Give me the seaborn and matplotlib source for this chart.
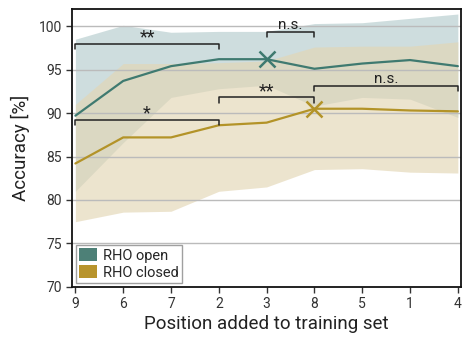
import matplotlib
matplotlib.use("Agg")
import matplotlib.pyplot as plt
import seaborn as sns
import numpy as np
import pandas as pd
from matplotlib.patches import Patch

positions = ["9", "6", "7", "2", "3", "8", "5", "1", "4"]
open_mean = [89.7, 93.7, 95.4, 96.2, 96.2, 95.1, 95.7, 96.1, 95.4]
open_upper = [98.5, 100.1, 99.3, 99.4, 99.4, 100.3, 100.4, 100.9, 101.4]
open_lower = [81.0, 86.6, 91.8, 92.8, 93.2, 90.8, 91.8, 91.6, 89.5]
closed_mean = [84.2, 87.2, 87.2, 88.6, 88.9, 90.5, 90.5, 90.3, 90.2]
closed_upper = [91.0, 95.7, 95.7, 95.8, 96.0, 97.6, 97.7, 97.7, 98.2]
closed_lower = [77.5, 78.6, 78.7, 81.0, 81.5, 83.5, 83.6, 83.2, 83.1]
series_labels = ["RHO open", "RHO closed"]
# significance brackets: (start index, end index, height, label)
brackets = [(0, 3, 98.0, "**"), (4, 5, 99.3, "n.s."),
            (0, 3, 89.2, "*"), (3, 5, 91.8, "**"), (5, 8, 93.1, "n.s.")]
best_open_idx = 4
best_closed_idx = 5

c_open = "#3f7a70"
c_closed = "#b39328"
fill_open = "#bcd1d2"
fill_closed = "#e3d6b4"

sns.set_theme(style="white")
plt.rcParams["font.family"] = ["Roboto", "DejaVu Sans"]

fig, ax = plt.subplots(figsize=(4.74, 3.52), dpi=100)
fig.subplots_adjust(left=0.152, right=0.973, top=0.975, bottom=0.185)

x = np.arange(len(positions))
df = pd.DataFrame({
    "x": np.concatenate([x, x]),
    "acc": open_mean + closed_mean,
    "series": [series_labels[0]] * len(x) + [series_labels[1]] * len(x),
})

ax.fill_between(x, open_lower, open_upper, color=fill_open, alpha=0.72, lw=0, zorder=1)
ax.fill_between(x, closed_lower, closed_upper, color=fill_closed, alpha=0.65, lw=0, zorder=1.1)

for yv in [75, 80, 85, 90, 95, 100]:
    ax.axhline(yv, color="#bbbbbb", lw=1.0, zorder=1.5)

sns.lineplot(data=df, x="x", y="acc", hue="series",
             palette=[c_open, c_closed], lw=1.6, legend=False, ax=ax, zorder=3)

ax.plot(x[best_open_idx], open_mean[best_open_idx], marker="x", ms=11, mew=1.8,
        color=c_open, zorder=4)
ax.plot(x[best_closed_idx], closed_mean[best_closed_idx], marker="x", ms=11, mew=1.8,
        color=c_closed, zorder=4)

for i0, i1, h, lab in brackets:
    ax.plot([x[i0], x[i0], x[i1], x[i1]], [h - 0.6, h, h, h - 0.6],
            color="#222222", lw=1.1, zorder=5)
    if lab == "n.s.":
        ax.text((x[i0] + x[i1]) / 2, h + 0.05, lab, ha="center", va="bottom",
                fontsize=11, color="#222222", zorder=5)
    else:
        ax.text((x[i0] + x[i1]) / 2, h - 0.3, lab, ha="center", va="bottom",
                fontsize=13, color="#222222", zorder=5)

ax.set_xlim(-0.07, 8.07)
ax.set_ylim(70, 102)
ax.set_xticks(x)
ax.set_xticklabels(positions)
ax.set_yticks([70, 75, 80, 85, 90, 95, 100])
ax.tick_params(axis="both", labelsize=10, colors="#333333", length=4, width=1,
               direction="out", bottom=True, left=True)
ax.set_xlabel("Position added to training set", fontsize=13.5, color="#222222",
              labelpad=3)
ax.set_ylabel("Accuracy [%]", fontsize=13.5, color="#222222", labelpad=6)
for s in ax.spines.values():
    s.set_color("#111111")
    s.set_linewidth(1.3)

handles = [Patch(facecolor="#4d8077", edgecolor="none"),
           Patch(facecolor="#b8942c", edgecolor="none")]
leg = ax.legend(handles, series_labels, loc="lower left", fontsize=10.5,
                frameon=True, fancybox=False, handlelength=1.2, handleheight=1.0,
                handletextpad=0.4, borderpad=0.25, labelspacing=0.15,
                borderaxespad=0.25)
leg.get_frame().set_edgecolor("#888888")
leg.get_frame().set_linewidth(1.0)

fig.savefig("out.png", dpi=100)
